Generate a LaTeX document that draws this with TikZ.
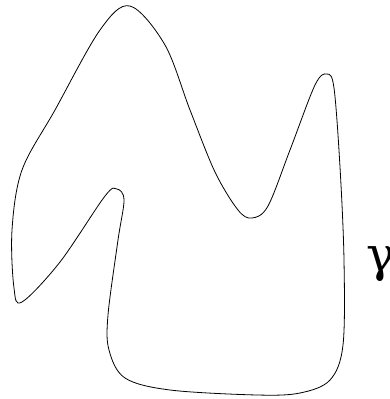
\documentclass[tikz,border=0pt]{standalone}
\usepackage{fontspec}
\newfontfamily\gfont{DejaVu Serif}
\tikzset{curve/.style={draw=black,line width=0.8pt,line join=round}}
\begin{document}
\begin{tikzpicture}[x=1pt,y=-1pt]
\useasboundingbox (0,0) rectangle (390,399);
\draw[curve] plot[smooth cycle,tension=0.55] coordinates {
(130,6) (165,45) (190,110) (215,172) (238,210) (252,218) (268,206)
(290,150) (315,85) (327,74) (334,88) (340,167) (344,260) (343,345)
(330,380) (300,393) (257,395) (170,390) (125,378) (109,350) (108,315)
(118,240) (124,200) (117,189) (105,196) (60,262) (22,302) (14,288)
(12,230) (22,170) (55,110) (100,30)};
\node[anchor=base west,inner sep=0pt] (g) at (366,271) {\gfont\fontsize{48}{56}\selectfont γ};
\end{tikzpicture}
\end{document}
